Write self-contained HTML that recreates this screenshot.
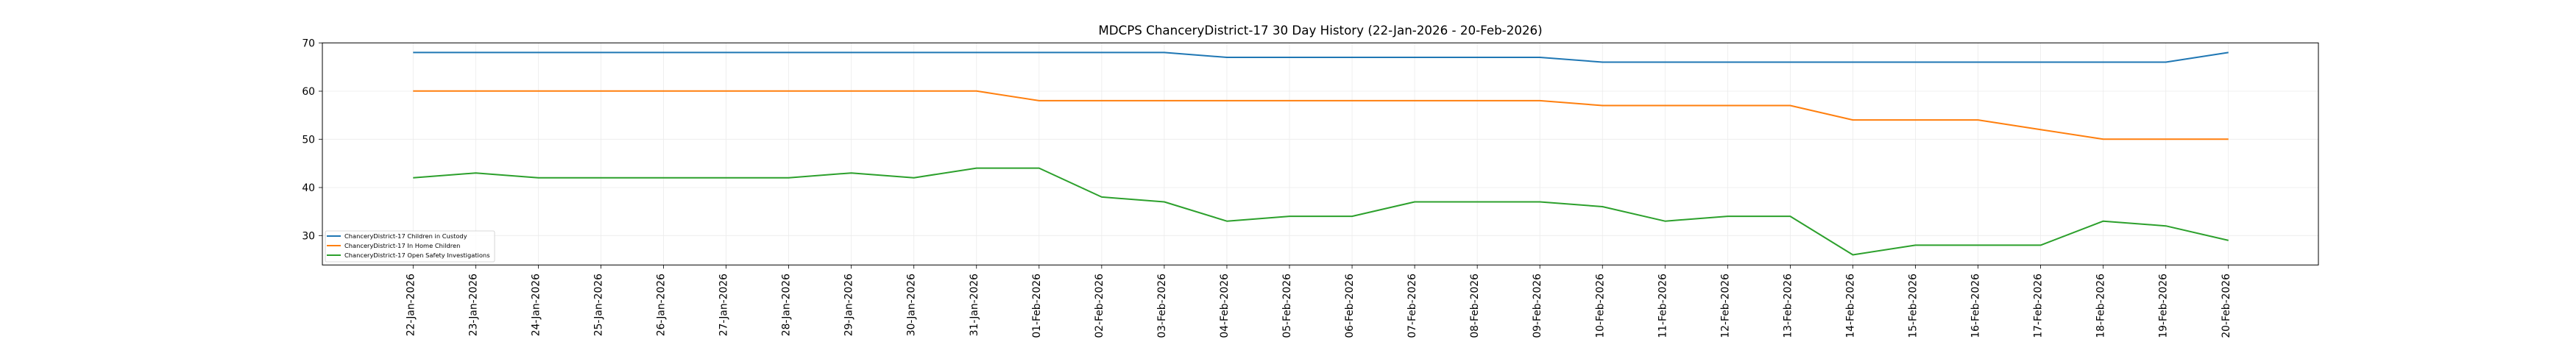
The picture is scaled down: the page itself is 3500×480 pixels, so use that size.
<!DOCTYPE html>
<html><head><meta charset="utf-8"><style>html,body{margin:0;padding:0;background:#fff}svg{display:block}</style></head>
<body>
<svg width="3500" height="480" xmlns="http://www.w3.org/2000/svg" font-family="DejaVu Sans, Liberation Sans, sans-serif">
<rect width="3500" height="480" fill="#fff"/>
<text x="1794" y="47" font-size="16.7" text-anchor="middle">MDCPS ChanceryDistrict-17 30 Day History (22-Jan-2026 - 20-Feb-2026)</text>
<g stroke="#ebebeb" stroke-width="0.8">
<line x1="438" x2="3150" y1="124" y2="124"/><line x1="438" x2="3150" y1="189.3" y2="189.3"/><line x1="438" x2="3150" y1="255" y2="255"/><line x1="438" x2="3150" y1="320.3" y2="320.3"/>
</g>
<g id="vg" stroke="#ebebeb" stroke-width="0.8"></g>
<g id="ticks" stroke="#000" stroke-width="0.8"></g>
<g id="labels" font-size="13.9"></g>
<g font-size="13.9" text-anchor="end">
<text x="428" y="63.3">70</text><text x="428" y="129">60</text><text x="428" y="194.3">50</text><text x="428" y="260">40</text><text x="428" y="325.3">30</text>
</g>
<g stroke="#000" stroke-width="0.8">
<line x1="433" x2="438" y1="58.3" y2="58.3"/><line x1="433" x2="438" y1="124" y2="124"/><line x1="433" x2="438" y1="189.3" y2="189.3"/><line x1="433" x2="438" y1="255" y2="255"/><line x1="433" x2="438" y1="320.3" y2="320.3"/>
</g>
<g fill="none" stroke-width="2" stroke-linejoin="round">
<polyline stroke="#1f77b4" points="561.3,71.4 1581.9,71.4 1666.95,78 2092.2,78 2177.25,84.5 2942.7,84.5 3027.75,71.4"/>
<polyline stroke="#ff7f0e" points="561.3,123.8 1326.8,123.8 1411.8,136.9 2092.2,136.9 2177.25,143.5 2432.4,143.5 2517.45,163.1 2687.55,163.1 2772.6,176.2 2857.65,189.3 3027.75,189.3"/>
<polyline stroke="#2ca02c" points="561.3,241.7 646.4,235.2 731.4,241.7 816.5,241.7 901.5,241.7 986.6,241.7 1071.6,241.7 1156.7,235.2 1241.7,241.7 1326.8,228.6 1411.8,228.6 1496.85,267.9 1581.9,274.5 1666.95,300.7 1752,294.1 1837.05,294.1 1922.1,274.5 2007.15,274.5 2092.2,274.5 2177.25,281 2262.3,300.7 2347.35,294.1 2432.4,294.1 2517.45,346.5 2602.5,333.4 2687.55,333.4 2772.6,333.4 2857.65,300.7 2942.7,307.2 3027.75,326.9"/>
</g>
<rect x="438" y="58.3" width="2712" height="302" fill="none" stroke="#000" stroke-width="1"/>
<rect x="442" y="314" width="230" height="42" fill="#fff" fill-opacity="0.8" stroke="#ccc" stroke-width="0.8" rx="2"/>
<g stroke-width="2"><line x1="444" x2="463" y1="321" y2="321" stroke="#1f77b4"/><line x1="444" x2="463" y1="334" y2="334" stroke="#ff7f0e"/><line x1="444" x2="463" y1="347" y2="347" stroke="#2ca02c"/></g>
<g font-size="8.3"><text x="468" y="324">ChanceryDistrict-17 Children in Custody</text><text x="468" y="337">ChanceryDistrict-17 In Home Children</text><text x="468" y="350">ChanceryDistrict-17 Open Safety Investigations</text></g>
<script>
var d=["22-Jan","23-Jan","24-Jan","25-Jan","26-Jan","27-Jan","28-Jan","29-Jan","30-Jan","31-Jan","01-Feb","02-Feb","03-Feb","04-Feb","05-Feb","06-Feb","07-Feb","08-Feb","09-Feb","10-Feb","11-Feb","12-Feb","13-Feb","14-Feb","15-Feb","16-Feb","17-Feb","18-Feb","19-Feb","20-Feb"];
var ns="http://www.w3.org/2000/svg",vg=document.getElementById("vg"),tk=document.getElementById("ticks"),lb=document.getElementById("labels");
for(var i=0;i<30;i++){var x=561.3+85.05*i;
var l=document.createElementNS(ns,"line");l.setAttribute("x1",x);l.setAttribute("x2",x);l.setAttribute("y1",58.3);l.setAttribute("y2",360.3);vg.appendChild(l);
var t=document.createElementNS(ns,"line");t.setAttribute("x1",x);t.setAttribute("x2",x);t.setAttribute("y1",360.3);t.setAttribute("y2",365.3);tk.appendChild(t);
var s=document.createElementNS(ns,"text");s.setAttribute("transform","translate("+(x+1)+",372) rotate(-90)");s.setAttribute("text-anchor","end");s.textContent=d[i]+"-2026";lb.appendChild(s);}
</script>
</svg>
</body></html>
